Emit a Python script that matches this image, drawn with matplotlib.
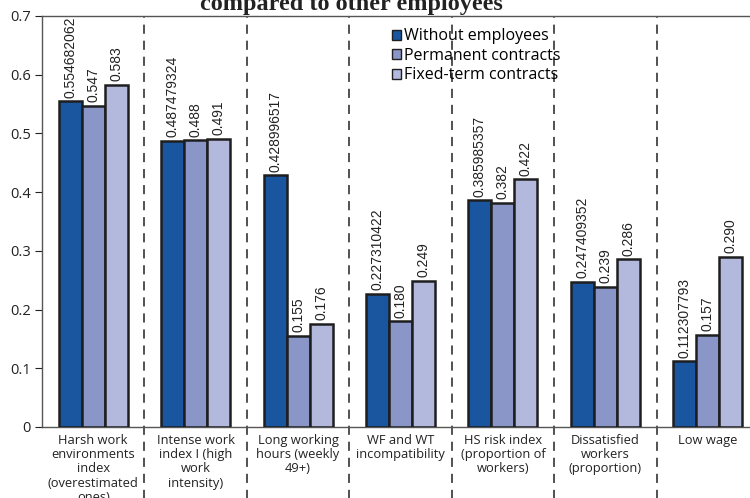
import numpy as np
import matplotlib
matplotlib.use("Agg")
import matplotlib.pyplot as plt
from matplotlib.patches import Patch

categories = [
    "Harsh work\nenvironments\nindex\n(overestimated\nones)",
    "Intense work\nindex I (high\nwork\nintensity)",
    "Long working\nhours (weekly\n49+)",
    "WF and WT\nincompatibility",
    "HS risk index\n(proportion of\nworkers)",
    "Dissatisfied\nworkers\n(proportion)",
    "Low wage",
]
series_names = ["Without employees", "Permanent contracts", "Fixed-term contracts"]
without_employees = [0.554682062, 0.487479324, 0.428996517, 0.227310422,
                     0.385985357, 0.247409352, 0.112307793]
permanent = [0.547, 0.488, 0.155, 0.180, 0.382, 0.239, 0.157]
fixed_term = [0.583, 0.491, 0.176, 0.249, 0.422, 0.286, 0.290]
y_ticks = [0, 0.1, 0.2, 0.3, 0.4, 0.5, 0.6, 0.7]
y_tick_labels = ["0", "0.1", "0.2", "0.3", "0.4", "0.5", "0.6", "0.7"]

colors_l = ["#1a55a0", "#8a96c8", "#b3b9dc"]
edge_c = "#1e1e1e"
sans = "Open Sans"

fig = plt.figure(figsize=(7.5, 4.98), dpi=100)
ax = fig.add_axes([0.056, 0.1426, 0.956, 0.8254])

x_l = np.arange(len(categories))
bar_w = 0.225
values_l = [without_employees, permanent, fixed_term]
for idx_i, vals in enumerate(values_l):
    pos = x_l + (idx_i - 1) * bar_w
    ax.bar(pos, vals, width=bar_w, color=colors_l[idx_i], edgecolor=edge_c,
           linewidth=1.8, label=series_names[idx_i], zorder=3)
    for p, v in zip(pos, vals):
        txt = str(v) if idx_i == 0 else f"{v:.3f}"
        ax.text(p, v + 0.006, txt, rotation=90, ha="center", va="bottom",
                fontsize=10, family="Liberation Sans", color="#222222")

# dashed separators running down through the label area
for sep in x_l[:-1] + 0.5:
    ax.plot([sep, sep], [-0.2, 1.0], transform=ax.get_xaxis_transform(),
            color="#222222", linestyle=(0, (6, 4.5)), linewidth=1.1,
            clip_on=False, zorder=2)

ax.set_xlim(-0.5, len(categories) - 0.5)
ax.set_ylim(0, 0.7)
ax.set_yticks(y_ticks, y_tick_labels)
ax.set_xticks(x_l, categories)
ax.tick_params(axis="x", length=0, pad=5, labelsize=9.3, colors="#222222")
ax.tick_params(axis="y", length=5, width=0.8, direction="out", labelsize=10.5,
               colors="#222222", pad=3)
for lab in ax.get_xticklabels():
    lab.set_family(sans)
    lab.set_linespacing(1.12)
    lab.set_va("top")
for lab in ax.get_yticklabels():
    lab.set_family(sans)

for side in ["left", "bottom", "top"]:
    ax.spines[side].set_color("#555555")
    ax.spines[side].set_linewidth(1.0)
ax.spines["right"].set_visible(False)

handles = [Patch(facecolor=c, edgecolor=edge_c, linewidth=1.0) for c in colors_l]
leg = ax.legend(handles, series_names, loc="upper left",
                bbox_to_anchor=(0.472, 0.997), frameon=False,
                handlelength=0.6, handleheight=0.6, handletextpad=0.15,
                labelspacing=0.22, borderaxespad=0.3,
                prop={"family": sans, "size": 11.5})

fig.text(0.468, 0.979, "compared to other employees", ha="center",
         va="baseline", fontsize=17.5, fontweight="bold",
         family="Liberation Serif", color="#222222")

fig.savefig("out.png", dpi=100)
